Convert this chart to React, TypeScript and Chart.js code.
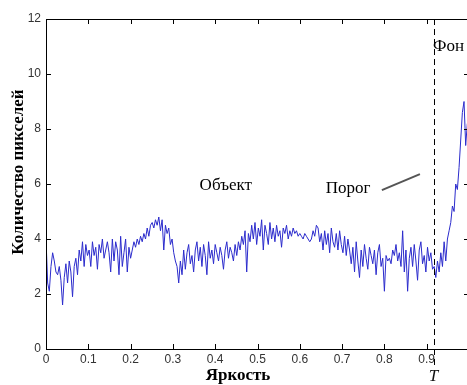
import React, { useEffect, useRef } from "react";
import { Chart, registerables } from "chart.js";

Chart.register(...registerables);

// Histogram of brightness (bins 0..254 over [0, 1])
const pixelCounts: number[] = [
  // 0 - 0.1
  4.0, 2.4, 2.1, 3.0, 3.5, 3.2, 2.8, 2.7, 3.0, 2.5, 1.6, 2.6, 3.1, 2.4, 3.2, 2.8, 1.9, 3.0, 3.3, 2.7, 3.6, 3.2, 3.9, 3.0, 3.8, 3.4,
  // 0.1 - 0.2
  3.6, 3.0, 3.9, 3.4, 3.7, 2.9, 3.8, 3.5, 4.0, 3.3, 3.6, 3.9, 3.5, 2.8, 4.0, 3.2, 3.9, 3.6, 2.7, 4.1, 3.0, 3.5, 4.0, 2.8, 3.7, 3.3,
  // 0.2 - 0.28
  3.6, 3.9, 3.7, 4.0, 3.8, 4.1, 3.9, 4.2, 4.0, 4.4, 4.1, 4.5, 4.6, 4.4, 4.7, 4.5, 4.8, 4.3, 4.7, 3.6,
  // 0.28 - 0.32
  4.5, 4.2, 4.4, 3.8, 4.0, 3.5, 3.2, 3.0, 2.4, 3.2, 2.7,
  // 0.32 - 0.45
  3.6, 2.9, 3.5, 3.8, 3.1, 3.4, 2.8, 3.6, 3.9, 3.2, 3.7, 3.0, 3.8, 3.4, 2.7, 3.9, 3.3, 3.6, 3.1, 3.8, 3.5, 3.2, 3.7, 3.4, 2.9, 3.6, 3.9, 3.3, 3.7, 3.5, 3.2, 3.8, 3.4,
  // 0.45 - 0.6
  3.9, 3.6, 4.1, 3.8, 4.3, 2.8, 4.2, 3.9, 4.5, 4.0, 4.6, 3.8, 4.4, 4.1, 4.7, 3.6, 4.5, 4.2, 3.8, 4.6, 4.0, 4.4, 3.9, 4.5, 4.1, 4.3, 3.7, 4.4, 4.2, 4.5, 4.0, 4.3, 4.1, 4.4, 4.2, 4.3, 4.1, 4.2,
  // 0.6 - 0.65
  4.1, 4.0, 4.2, 4.1, 4.0, 3.9, 4.0, 4.3, 4.1, 4.5, 4.4, 3.9, 4.2,
  // 0.65 - 0.72
  3.6, 4.3, 3.8, 4.2, 3.5, 4.4, 3.9, 3.7, 4.2, 3.6, 4.3, 3.8, 3.5, 4.1, 3.4, 4.0, 3.6,
  // 0.72 - 0.915
  3.1, 3.7, 2.8, 3.9, 3.2, 2.6, 3.6, 3.0, 3.8, 3.3, 2.9, 3.7, 3.4, 3.1, 3.6, 2.7, 3.5, 3.8, 3.0, 3.3, 2.1, 3.4, 3.2, 3.3, 3.1,
  3.6, 3.4, 3.8, 3.2, 3.5, 3.0, 4.3, 2.8, 3.6, 2.1, 3.3, 3.7, 3.0, 3.8, 3.2, 2.5, 3.6, 3.9, 3.1, 3.4, 2.8, 3.7, 3.2, 3.5, 2.9,
  // 0.915 - 0.955
  3.0, 2.6, 3.2, 2.8, 3.5, 3.0, 3.9, 3.2, 4.0, 4.3,
  // 0.955 - 1
  4.6, 5.2, 5.0, 6.0, 5.8, 6.6, 7.6, 8.6, 9.0, 7.4, 8.2,
];
const BIN_DIVISOR = 255;

const xTickValues = [0, 0.1, 0.2, 0.3, 0.4, 0.5, 0.6, 0.7, 0.8, 0.9, 1];
const yTickValues = [0, 2, 4, 6, 8, 10, 12];

const THRESHOLD = 0.917;
const xTitle = "Яркость";
const yTitle = "Количество пикселей";
const thresholdLabel = "T";

type Note = { text: string; x: number; y: number; align: CanvasTextAlign };
const notes: Note[] = [
  { text: "Объект", x: 0.425, y: 5.95, align: "center" },
  { text: "Порог", x: 0.714, y: 5.85, align: "center" },
  { text: "Фон", x: 0.915, y: 11.0, align: "left" },
];
const pointerFrom = { x: 0.794, y: 5.78 };
const pointerTo = { x: 0.884, y: 6.36 };

const CANVAS_W = 480;
const CANVAS_H = 385;

export default function App() {
  const ref = useRef<HTMLCanvasElement | null>(null);

  useEffect(() => {
    document.body.style.margin = "0";
    document.body.style.overflow = "hidden";
    document.documentElement.style.overflow = "hidden";
    const canvas = ref.current;
    if (!canvas) return;

    const points = pixelCounts.map((v, i) => ({ x: i / BIN_DIVISOR, y: v }));

    const decor = {
      id: "decor",
      afterDraw(chart: any) {
        const { ctx, chartArea } = chart;
        const { left, right, top, bottom } = chartArea;
        const xs = chart.scales.x;
        const ys = chart.scales.y;
        ctx.save();
        // box
        ctx.strokeStyle = "#000";
        ctx.lineWidth = 1;
        ctx.beginPath();
        ctx.moveTo(Math.round(left) + 0.5, Math.round(top) + 0.5);
        ctx.lineTo(Math.round(right) + 0.5, Math.round(top) + 0.5);
        ctx.lineTo(Math.round(right) + 0.5, Math.round(bottom) + 0.5);
        ctx.lineTo(Math.round(left) + 0.5, Math.round(bottom) + 0.5);
        ctx.closePath();
        ctx.stroke();
        // inward ticks
        const L = 5;
        ctx.beginPath();
        for (const v of xTickValues) {
          const px = Math.round(xs.getPixelForValue(v)) + 0.5;
          ctx.moveTo(px, bottom);
          ctx.lineTo(px, bottom - L);
          ctx.moveTo(px, top);
          ctx.lineTo(px, top + L);
        }
        for (const v of yTickValues) {
          const py = Math.round(ys.getPixelForValue(v)) + 0.5;
          ctx.moveTo(left, py);
          ctx.lineTo(left + L, py);
          ctx.moveTo(right, py);
          ctx.lineTo(right - L, py);
        }
        ctx.stroke();
        // threshold dashed line
        const tx = Math.round(xs.getPixelForValue(THRESHOLD)) + 0.5;
        ctx.setLineDash([6, 4]);
        ctx.beginPath();
        ctx.moveTo(tx, top);
        ctx.lineTo(tx, bottom + 20);
        ctx.stroke();
        ctx.setLineDash([]);
        // T label
        ctx.fillStyle = "#111";
        ctx.font = "italic 17px 'Liberation Serif', serif";
        ctx.textAlign = "center";
        ctx.textBaseline = "middle";
        ctx.fillText(thresholdLabel, tx - 1, 377);
        // notes
        ctx.font = "17px 'Liberation Serif', serif";
        ctx.fillStyle = "#000";
        for (const n of notes) {
          ctx.textAlign = n.align;
          ctx.fillText(n.text, xs.getPixelForValue(n.x), ys.getPixelForValue(n.y));
        }
        // pointer
        ctx.strokeStyle = "#555";
        ctx.lineWidth = 2;
        ctx.beginPath();
        ctx.moveTo(xs.getPixelForValue(pointerFrom.x), ys.getPixelForValue(pointerFrom.y));
        ctx.lineTo(xs.getPixelForValue(pointerTo.x), ys.getPixelForValue(pointerTo.y));
        ctx.stroke();
        // axis titles
        ctx.fillStyle = "#000";
        ctx.font = "bold 17px 'Liberation Serif', serif";
        ctx.textAlign = "center";
        ctx.fillText(xTitle, 238, 376);
        ctx.save();
        ctx.translate(19, 172);
        ctx.rotate(-Math.PI / 2);
        ctx.fillText(yTitle, 0, 0);
        ctx.restore();
        ctx.restore();
      },
    };

    const chart = new Chart(canvas, {
      type: "line",
      data: {
        datasets: [
          {
            data: points,
            borderColor: "#2b2bcc",
            borderWidth: 1,
            pointRadius: 0,
            tension: 0,
            fill: false,
          },
        ],
      },
      options: {
        animation: false,
        responsive: false,
        events: [],
        layout: { padding: { top: 19, right: CANVAS_W - 469, left: 0, bottom: 0 } },
        plugins: { legend: { display: false }, tooltip: { enabled: false } },
        scales: {
          x: {
            type: "linear",
            min: 0,
            max: 1,
            grid: { display: false, drawTicks: false },
            border: { display: false },
            afterFit: (s: any) => {
              s.height = 36;
            },
            afterBuildTicks: (s: any) => {
              s.ticks = xTickValues.map((v) => ({ value: v }));
            },
            ticks: {
              padding: 3,
              maxRotation: 0,
              autoSkip: false,
              color: "#333",
              font: { family: "'Liberation Sans', Arial, sans-serif", size: 12 },
              callback: (v: any) => {
                const n = Number(v);
                if (n >= 0.999) return "";
                if (n === 0) return "0";
                return n.toFixed(1);
              },
            },
          },
          y: {
            min: 0,
            max: 12,
            grid: { display: false, drawTicks: false },
            border: { display: false },
            afterFit: (s: any) => {
              s.width = 46;
            },
            afterBuildTicks: (s: any) => {
              s.ticks = yTickValues.map((v) => ({ value: v }));
            },
            ticks: {
              padding: 5,
              color: "#333",
              font: { family: "'Liberation Sans', Arial, sans-serif", size: 12 },
              callback: (v: any) => String(v),
            },
          },
        },
      },
      plugins: [decor],
    });
    return () => chart.destroy();
  }, []);

  return (
    <div style={{ position: "fixed", left: 0, top: 0, width: 467, height: 385, overflow: "hidden", background: "#fff" }}>
      <canvas ref={ref} width={CANVAS_W} height={CANVAS_H} style={{ width: CANVAS_W, height: CANVAS_H, display: "block" }} />
    </div>
  );
}
